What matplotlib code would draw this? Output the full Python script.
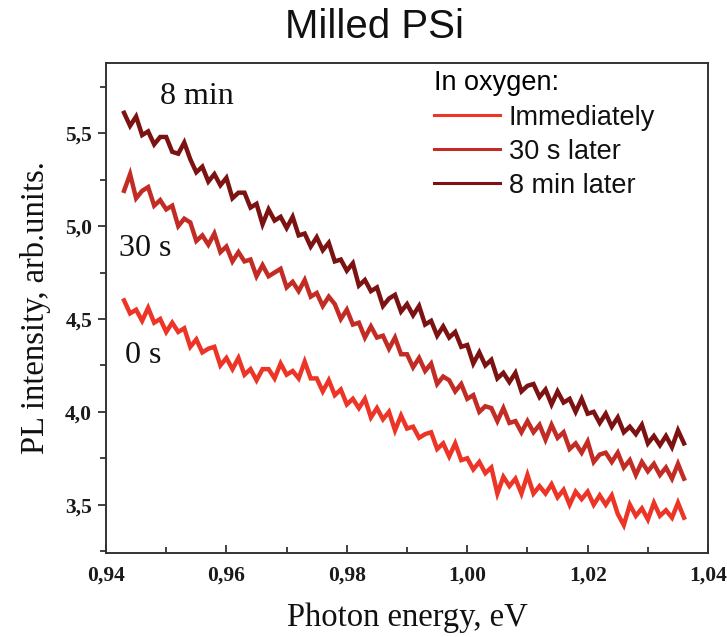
import matplotlib
matplotlib.use("Agg")
import matplotlib.pyplot as plt
from matplotlib.ticker import MultipleLocator, FuncFormatter

# ---------------- data ----------------
energy = [
    0.943, 0.944, 0.945, 0.946, 0.947, 0.948, 0.949, 0.950, 0.951, 0.952,
    0.953, 0.954, 0.955, 0.956, 0.957, 0.958, 0.959, 0.960, 0.961, 0.962,
    0.963, 0.964, 0.965, 0.966, 0.967, 0.968, 0.969, 0.970, 0.971, 0.972,
    0.973, 0.974, 0.975, 0.976, 0.977, 0.978, 0.979, 0.980, 0.981, 0.982,
    0.983, 0.984, 0.985, 0.986, 0.987, 0.988, 0.989, 0.990, 0.991, 0.992,
    0.993, 0.994, 0.995, 0.996, 0.997, 0.998, 0.999, 1.000, 1.001, 1.002,
    1.003, 1.004, 1.005, 1.006, 1.007, 1.008, 1.009, 1.010, 1.011, 1.012,
    1.013, 1.014, 1.015, 1.016, 1.017, 1.018, 1.019, 1.020, 1.021, 1.022,
    1.023, 1.024, 1.025, 1.026, 1.027, 1.028, 1.029, 1.030, 1.031, 1.032,
    1.033, 1.034, 1.035, 1.036,
]

pl_immediately = [
    4.60, 4.53, 4.55, 4.49, 4.56, 4.48, 4.50, 4.43, 4.48, 4.43,
    4.45, 4.35, 4.39, 4.32, 4.34, 4.35, 4.25, 4.29, 4.23, 4.29,
    4.20, 4.23, 4.17, 4.23, 4.23, 4.18, 4.26, 4.20, 4.22, 4.18,
    4.27, 4.18, 4.18, 4.11, 4.17, 4.09, 4.12, 4.04, 4.07, 4.02,
    4.07, 3.97, 4.02, 3.96, 4.00, 3.90, 3.98, 3.91, 3.92, 3.86,
    3.88, 3.89, 3.80, 3.83, 3.76, 3.83, 3.74, 3.75, 3.69, 3.73,
    3.67, 3.70, 3.56, 3.65, 3.60, 3.64, 3.56, 3.66, 3.56, 3.60,
    3.56, 3.61, 3.54, 3.58, 3.50, 3.57, 3.53, 3.57, 3.50, 3.55,
    3.50, 3.55, 3.45, 3.39, 3.50, 3.44, 3.48, 3.42, 3.51, 3.44,
    3.47, 3.43, 3.51, 3.43,
]

pl_30s = [
    5.19, 5.28, 5.15, 5.19, 5.21, 5.11, 5.14, 5.09, 5.11, 5.00,
    5.04, 5.02, 4.92, 4.95, 4.90, 4.96, 4.86, 4.89, 4.81, 4.86,
    4.81, 4.82, 4.73, 4.79, 4.73, 4.75, 4.77, 4.67, 4.70, 4.65,
    4.71, 4.62, 4.64, 4.57, 4.62, 4.58, 4.50, 4.55, 4.47, 4.48,
    4.40, 4.46, 4.40, 4.41, 4.34, 4.40, 4.31, 4.31, 4.24, 4.29,
    4.22, 4.26, 4.15, 4.19, 4.17, 4.11, 4.15, 4.07, 4.09, 4.00,
    4.03, 4.02, 3.95, 4.02, 3.94, 3.95, 3.89, 3.95, 3.89, 3.93,
    3.85, 3.93, 3.86, 3.89, 3.80, 3.83, 3.78, 3.84, 3.73, 3.77,
    3.78, 3.73, 3.78, 3.70, 3.74, 3.66, 3.73, 3.68, 3.72, 3.66,
    3.70, 3.64, 3.72, 3.64,
]

pl_8min = [
    5.61, 5.54, 5.59, 5.49, 5.51, 5.44, 5.48, 5.48, 5.40, 5.39,
    5.45, 5.36, 5.29, 5.32, 5.24, 5.28, 5.22, 5.26, 5.15, 5.18,
    5.18, 5.10, 5.12, 5.01, 5.09, 5.03, 5.05, 4.99, 5.05, 4.95,
    4.96, 4.89, 4.94, 4.87, 4.91, 4.81, 4.82, 4.76, 4.80, 4.68,
    4.71, 4.65, 4.67, 4.57, 4.61, 4.63, 4.54, 4.58, 4.52, 4.57,
    4.47, 4.49, 4.41, 4.46, 4.40, 4.43, 4.35, 4.36, 4.26, 4.32,
    4.25, 4.28, 4.18, 4.21, 4.16, 4.21, 4.11, 4.14, 4.15, 4.08,
    4.12, 4.04, 4.11, 4.05, 4.07, 4.00, 4.07, 3.99, 4.00, 3.94,
    3.99, 3.92, 3.97, 3.89, 3.92, 3.88, 3.93, 3.83, 3.87, 3.82,
    3.87, 3.81, 3.90, 3.83,
]

series_labels = ["Immediately", "30 s later", "8 min later"]
series_colors = ["#ec3427", "#c22c24", "#7c1212"]
curve_notes = ["0 s", "30 s", "8 min"]
note_x = [0.9461, 0.9465, 0.9551]
note_y = [4.306, 4.882, 5.699]

x_ticks = [0.94, 0.96, 0.98, 1.00, 1.02, 1.04]
y_ticks = [3.5, 4.0, 4.5, 5.0, 5.5]

# ---------------- figure ----------------
serif = ["Liberation Serif", "DejaVu Serif"]
sans = ["Liberation Sans", "DejaVu Sans"]

fig = plt.figure(figsize=(7.27, 6.37), dpi=100)
ax = fig.add_axes([0.1458, 0.1319, 0.8282, 0.7691])

all_series = [pl_immediately, pl_30s, pl_8min]
handles = []
for ys, lab, col in zip(all_series, series_labels, series_colors):
    h, = ax.plot(energy, ys, color=col, lw=3.2, solid_joinstyle="miter",
                 label=lab)
    handles.append(h)

for txt, xx, yy in zip(curve_notes, note_x, note_y):
    ax.text(xx, yy, txt, family=serif, fontsize=23, ha="center",
            va="center", color="#111111")

ax.set_xlim(0.94, 1.04)
ax.set_ylim(3.24, 5.878)
ax.set_xticks(x_ticks)
ax.set_yticks(y_ticks)
ax.xaxis.set_minor_locator(MultipleLocator(0.01))
ax.yaxis.set_minor_locator(MultipleLocator(0.25))
ax.xaxis.set_major_formatter(FuncFormatter(lambda v, p: f"{v:.2f}".replace(".", ",")))
ax.yaxis.set_major_formatter(FuncFormatter(lambda v, p: f"{v:.1f}".replace(".", ",")))

ax.tick_params(axis="x", which="both", direction="in", top=False,
               color="#333333", width=1.3)
ax.tick_params(axis="y", which="both", direction="out", right=False,
               color="#333333", width=1.3)
ax.tick_params(which="major", length=6)
ax.tick_params(which="minor", length=4)
ax.tick_params(axis="x", pad=9)
ax.tick_params(axis="y", pad=4)
for lbl in ax.get_xticklabels() + ax.get_yticklabels():
    lbl.set_family(serif)
    lbl.set_fontweight("bold")
    lbl.set_fontsize(15.5)
    lbl.set_color("#1a1a1a")

for sp in ax.spines.values():
    sp.set_linewidth(1.4)
    sp.set_color("#333333")

ax.set_xlabel("Photon energy, eV", family=serif, fontsize=23.5, labelpad=12,
              color="#111111")
ax.set_ylabel("PL intensity, arb.units.", family=serif, fontsize=23.5,
              labelpad=10, color="#111111")

fig.text(0.515, 0.957, "Milled PSi", family=sans, fontsize=29,
         ha="center", va="center", color="#111111")

leg = ax.legend(handles=handles, title="In oxygen:", loc="upper left",
                bbox_to_anchor=(0.545, 0.985), frameon=False,
                prop={"family": sans, "size": 19.5},
                title_fontproperties={"family": sans, "size": 19.5},
                alignment="left", handlelength=2.45, handletextpad=0.3,
                labelspacing=0.3, borderpad=0.0, borderaxespad=0.0)
for lh in leg.get_lines():
    lh.set_linewidth(2.2)
for t in leg.get_texts():
    t.set_color("#111111")

fig.savefig("out.png", dpi=100)
